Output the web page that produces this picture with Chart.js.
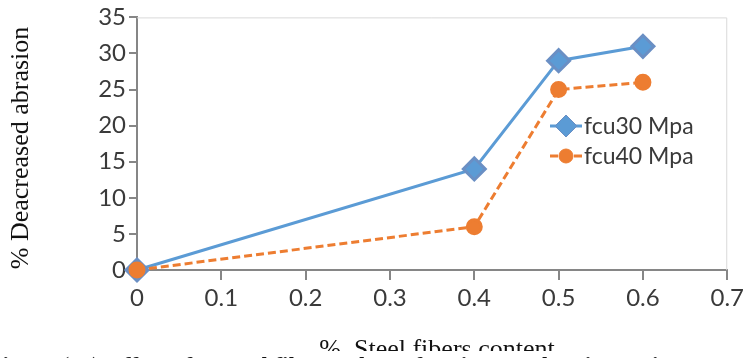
<!DOCTYPE html>
<html>
<head>
<meta charset="utf-8">
<script src="https://cdn.jsdelivr.net/npm/chart.js@4/dist/chart.umd.min.js"></script>
<style>
  html, body { margin:0; padding:0; background:#fff; }
  #wrap { position:relative; width:748px; height:358px; overflow:hidden; background:#fff; }
  #chart { position:absolute; left:0; top:0; }
  .ytitle {
    position:absolute; left:-130px; top:133px; width:300px; height:30px;
    text-align:center; line-height:30px; white-space:nowrap;
    font-family:"Liberation Serif", serif; font-size:26px; color:#111;
    transform:rotate(-90deg); transform-origin:center;
  }
  .xtitle {
    position:absolute; left:287px; top:334px; width:300px; text-align:center;
    font-family:"Liberation Serif", serif; font-size:26px; line-height:30px; color:#111; white-space:nowrap;
  }
  .caption {
    position:absolute; left:-15px; top:351px; white-space:nowrap; background:#fff;
    font-family:"Liberation Serif", serif; font-size:24px; line-height:28px; font-weight:bold; font-style:italic; color:#111;
  }
</style>
</head>
<body>
<div id="wrap">
  <canvas id="chart" width="748" height="358"></canvas>
  <div class="ytitle">% Deacreased abrasion</div>
  <div class="xtitle">%&nbsp; Steel fibers content</div>
  <div class="caption">Figure (13) Effect of % steel fibers volume fraction on abrasion resistance</div>
</div>
<script>
// steel fiber content (%) and decrease in abrasion (%)
const steelContent = [0, 0.4, 0.5, 0.6];
const fcu30 = [0, 14, 29, 31];
const fcu40 = [0, 6, 25, 26];
const seriesNames = ['fcu30 Mpa', 'fcu40 Mpa'];
const xTicks = [0, 0.1, 0.2, 0.3, 0.4, 0.5, 0.6, 0.7];
const yTicks = [0, 5, 10, 15, 20, 25, 30, 35];

const BLUE = '#5B9BD5';
const ORANGE = '#ED7D31';
const AXIS = '#868686';
const TXT = '#3a3a3a';
const tickFont = { family: 'Lato, "Open Sans", sans-serif', size: 24 };

function toPoints(xs, ys){ return xs.map((x,i)=>({x, y: ys[i]})); }

// light frame on the top and right edges of the plot area
const frame = {
  id: 'frame',
  beforeDatasetsDraw(chart){
    const {ctx, chartArea: a} = chart;
    ctx.save();
    ctx.strokeStyle = '#d9d9d9';
    ctx.lineWidth = 1;
    ctx.beginPath();
    ctx.moveTo(a.left, a.top + 0.5);
    ctx.lineTo(a.right - 0.5, a.top + 0.5);
    ctx.lineTo(a.right - 0.5, a.bottom);
    ctx.stroke();
    ctx.restore();
  }
};

// legend drawn inside the plot, line + marker + label
const innerLegend = {
  id: 'innerLegend',
  afterDatasetsDraw(chart, args, opts){
    const ctx = chart.ctx;
    ctx.save();
    chart.data.datasets.forEach((ds, i) => {
      const y = opts.y + i * opts.rowGap;
      ctx.strokeStyle = ds.borderColor;
      ctx.lineWidth = ds.borderWidth;
      ctx.setLineDash(ds.borderDash || []);
      ctx.beginPath();
      ctx.moveTo(opts.x, y);
      ctx.lineTo(opts.x + opts.lineLen, y);
      ctx.stroke();
      ctx.setLineDash([]);
      ctx.fillStyle = ds.pointBackgroundColor;
      ctx.strokeStyle = ds.pointBorderColor;
      ctx.lineWidth = 1;
      Chart.helpers.drawPoint(ctx, { pointStyle: ds.pointStyle, radius: ds.pointRadius, borderWidth: 1 }, opts.x + opts.lineLen / 2, y);
      ctx.fillStyle = TXT;
      ctx.font = `${tickFont.size - 1}px ${tickFont.family}`;
      ctx.textBaseline = 'middle';
      ctx.fillText(ds.label, opts.x + opts.lineLen + 2, y + 1);
    });
    ctx.restore();
  }
};

new Chart(document.getElementById('chart'), {
  type: 'line',
  data: {
    datasets: [
      {
        label: seriesNames[0],
        data: toPoints(steelContent, fcu30),
        borderColor: BLUE, borderWidth: 3,
        pointStyle: 'rectRot', pointRadius: 11,
        pointBackgroundColor: BLUE, pointBorderColor: '#6a8fc4',
        clip: false, order: 1
      },
      {
        label: seriesNames[1],
        data: toPoints(steelContent, fcu40),
        borderColor: ORANGE, borderWidth: 3, borderDash: [8, 4],
        pointStyle: 'circle', pointRadius: 7,
        pointBackgroundColor: ORANGE, pointBorderColor: ORANGE,
        clip: false, order: 0
      }
    ]
  },
  options: {
    responsive: false,
    animation: false,
    layout: { padding: { left: 0, right: 17, top: 15, bottom: 0 } },
    plugins: {
      legend: { display: false },
      tooltip: { enabled: false },
      innerLegend: { x: 550, y: 126, rowGap: 30, lineLen: 32 }
    },
    scales: {
      x: {
        type: 'linear', min: 0, max: 0.7,
        afterBuildTicks: s => { s.ticks = xTicks.map(v => ({ value: v })); },
        afterFit: s => { s.height = 88; },
        grid: { drawOnChartArea: false, tickLength: 10, color: AXIS, lineWidth: 2 },
        border: { color: AXIS, width: 2 },
        ticks: { font: tickFont, color: TXT, padding: 4, maxRotation: 0, callback: v => String(+v.toFixed(1)) }
      },
      y: {
        min: 0, max: 35,
        afterBuildTicks: s => { s.ticks = yTicks.map(v => ({ value: v })); },
        afterFit: s => { s.width = 137; },
        grid: { drawOnChartArea: false, tickLength: 8, color: AXIS, lineWidth: 2 },
        border: { color: AXIS, width: 2 },
        ticks: { font: tickFont, color: TXT, padding: 3 }
      }
    }
  },
  plugins: [frame, innerLegend]
});
</script>
</body>
</html>
